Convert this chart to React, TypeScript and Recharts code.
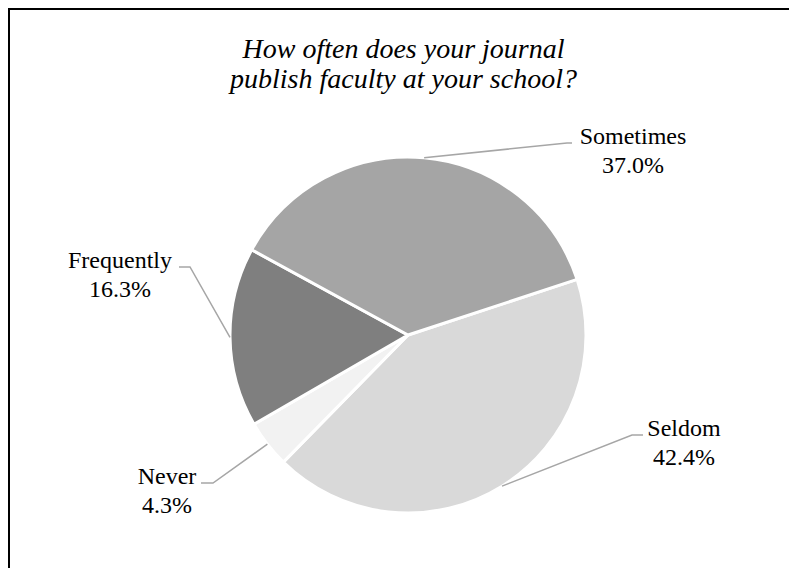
import { PieChart, Pie, Cell } from "recharts";

const TITLE_LINES = ["How often does your journal", "publish faculty at your school?"];

// clockwise from the Sometimes/Seldom boundary
const categories = ["Seldom", "Never", "Frequently", "Sometimes"];
const shares = [42.4, 4.3, 16.3, 37.0];
const sliceColors = ["#d9d9d9", "#f2f2f2", "#7f7f7f", "#a5a5a5"];

// where each leader line bends, relative to the pie centre, plus label centre offset
const LEADERS: Record<string, { ex: number; ey: number; tail: number; tx: number }> = {
  Sometimes: { ex: 159, ey: -192, tail: 5, tx: 66 },
  Seldom: { ex: 224, ey: 100, tail: 11, tx: 52 },
  Frequently: { ex: -218, ey: -68, tail: -11, tx: -70 },
  Never: { ex: -195, ey: 148, tail: -12, tx: -46 },
};

const RAD = Math.PI / 180;
const FONT = '"Liberation Serif", "Times New Roman", serif';

const data = categories.map((name, i) => ({ name, value: shares[i] }));

function SliceLabel(props: any) {
  const { cx, cy, midAngle, outerRadius, name, value } = props;
  const pos = LEADERS[name];
  if (!pos) return null;
  const sx = cx + outerRadius * Math.cos(-midAngle * RAD);
  const sy = cy + outerRadius * Math.sin(-midAngle * RAD);
  const ex = cx + pos.ex;
  const ey = cy + pos.ey;
  const lx = ex + pos.tx;
  return (
    <g>
      <polyline
        points={`${sx},${sy} ${ex},${ey} ${ex + pos.tail},${ey}`}
        fill="none"
        stroke="#a6a6a6"
        strokeWidth={1.5}
      />
      <text x={lx} y={ey + 1} textAnchor="middle" fontFamily={FONT} fontSize={24} fill="#000">
        {name}
      </text>
      <text x={lx} y={ey + 30} textAnchor="middle" fontFamily={FONT} fontSize={24} fill="#000">
        {`${Number(value).toFixed(1)}%`}
      </text>
    </g>
  );
}

export default function App() {
  return (
    <div
      style={{
        position: "relative",
        width: 789,
        height: 560,
        boxSizing: "border-box",
        borderTop: "2px solid #000",
        borderLeft: "2px solid #000",
        background: "#fff",
      }}
    >
      <div
        style={{
          position: "absolute",
          left: 0,
          top: 24,
          width: 787,
          textAlign: "center",
          fontFamily: FONT,
          fontStyle: "italic",
          fontSize: 28,
          lineHeight: "30px",
          color: "#000",
        }}
      >
        {TITLE_LINES.map((t) => (
          <div key={t}>{t}</div>
        ))}
      </div>
      <PieChart width={787} height={558} margin={{ top: 0, right: 0, bottom: 0, left: 0 }}>
        <Pie
          data={data}
          dataKey="value"
          nameKey="name"
          cx={398}
          cy={325}
          outerRadius={178}
          startAngle={18.2}
          endAngle={-341.8}
          stroke="#fff"
          strokeWidth={3}
          label={SliceLabel}
          labelLine={false}
          isAnimationActive={false}
        >
          {data.map((d, i) => (
            <Cell key={d.name} fill={sliceColors[i]} />
          ))}
        </Pie>
      </PieChart>
    </div>
  );
}
